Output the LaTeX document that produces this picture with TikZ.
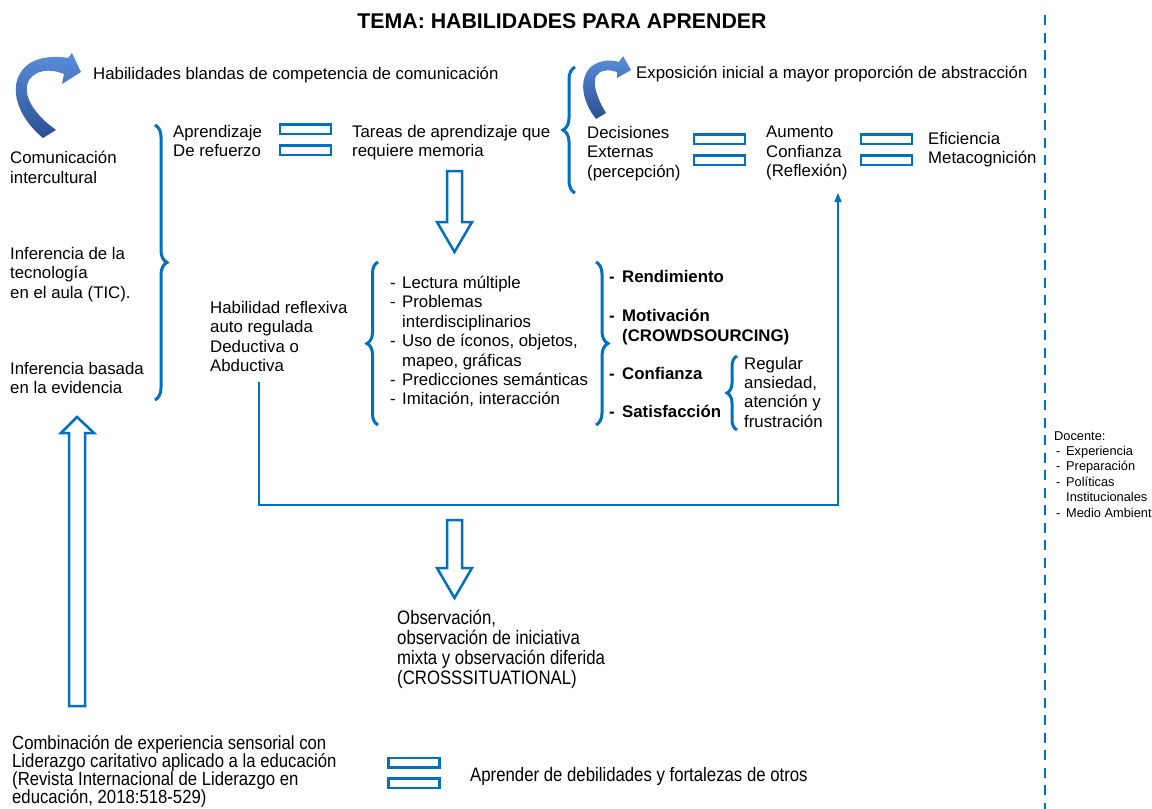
\documentclass[tikz,border=0pt]{standalone}
\usepackage{fontspec}
\setmainfont{Liberation Sans}
\newfontfamily\narrowfont[FakeStretch=0.86]{Liberation Sans}
\newfontfamily\narrowerfont[FakeStretch=0.88]{Liberation Sans}
\usetikzlibrary{decorations.pathreplacing,arrows.meta}
\definecolor{oblue}{HTML}{0070C0}
\definecolor{arrtop}{HTML}{5A8EDB}
\definecolor{arrbot}{HTML}{2C4F8F}
\tikzset{
  txt/.style={anchor=north west, inner sep=0pt, align=left, font=\fontsize{16.8}{19.5}\selectfont, text=black, execute at begin node={\rule{0pt}{16pt}}},
  boldtxt/.style={txt, font=\fontsize{16.8}{19.5}\selectfont\bfseries},
  narrowtxt/.style={anchor=north west, inner sep=0pt, align=left, font=\narrowfont\fontsize{19.5}{19.7}\selectfont, execute at begin node={\rule{0pt}{18pt}}},
  smalltxt/.style={anchor=north west, inner sep=0pt, align=left, font=\fontsize{12.8}{15.4}\selectfont, execute at begin node={\rule{0pt}{12pt}}},
  eqbar/.style={draw=oblue, line width=2.5pt, fill=white, minimum width=51pt, minimum height=9.5pt, inner sep=0pt},
  bracebig/.style={draw=oblue, line width=3pt, decorate, decoration={brace, amplitude=#1}},
  blockarrow/.style={draw=oblue, line width=2.5pt, fill=white, line join=miter},
  conn/.style={draw=oblue, line width=1.5pt, -{Triangle[length=9pt,width=7pt]}},
  curvearrow/.style={top color=arrtop, bottom color=arrbot, draw=none}
}
\begin{document}
\begin{tikzpicture}[x=1pt,y=-1pt]
\clip (0,0) rectangle (1152,809);
\fill[white] (0,0) rectangle (1152,809);

% title
\node[inner sep=0pt, font=\fontsize{21.3}{25}\selectfont\bfseries] (title) at (562,21) {TEMA: HABILIDADES PARA APRENDER};

% dashed divider
\draw[oblue, line width=2.6pt, dash pattern=on 10pt off 7.5pt] (1045,15) -- (1045,809);

% curved arrows
\shade[curvearrow] (43,138) .. controls (15,115) and (5,80) .. (30,63)
  .. controls (42,56) and (58,56) .. (68,58) -- (72,53) -- (81,72) -- (62,84) -- (64,74)
  .. controls (50,68) and (36,70) .. (29,80) .. controls (21,95) and (35,115) .. (56,130) -- cycle;
\shade[curvearrow] (596,119) .. controls (585,105) and (578,85) .. (588,70)
  .. controls (596,60) and (610,59) .. (619,62) -- (623,56) -- (631,70) -- (617,78) -- (617,72)
  .. controls (608,69) and (600,70) .. (596,76) .. controls (592,84) and (598,100) .. (606,113) -- cycle;

% top-left texts
\node[txt] (blandas) at (93,63) {Habilidades blandas de competencia de comunicaci\'on};
\node[txt] (cominter) at (10,151) {Comunicaci\'on\\intercultural};
\node[txt] (inftec) at (10,247) {Inferencia de la\\tecnolog\'ia\\en el aula (TIC).};
\node[txt] (infevid) at (10,362) {Inferencia basada\\en la evidencia};

% brace 1
\draw[bracebig=12pt] (155,125) -- (155,400);

\node[txt] (aprref) at (173,125) {Aprendizaje\\De refuerzo};
\node[eqbar] (eq1a) at (305.5,129) {};
\node[eqbar] (eq1b) at (305.5,150) {};
\node[txt] (tareas) at (352,125) {Tareas de aprendizaje que\\requiere memoria};

% top-right group
\draw[bracebig=12pt] (575,193) -- (575,67);
\node[txt] (exposicion) at (636,62) {Exposici\'on inicial a mayor proporci\'on de abstracci\'on};
\node[txt] (decisiones) at (587,126) {Decisiones\\Externas\\(percepci\'on)};
\node[eqbar] (eq2a) at (719.5,139) {};
\node[eqbar] (eq2b) at (719.5,160) {};
\node[txt] (aumento) at (766,126) {Aumento\\Confianza\\(Reflexi\'on)};
\node[eqbar] (eq3a) at (886.5,139) {};
\node[eqbar] (eq3b) at (886.5,160) {};
\node[txt] (eficiencia) at (928,132) {Eficiencia\\Metacognici\'on};

% down block arrow 1
\draw[blockarrow] (447,171) -- (462,171) -- (462,222) -- (472,222) -- (454.5,252) -- (437,222) -- (447,222) -- cycle;

% middle
\node[txt] (habilidad) at (210,301) {Habilidad reflexiva\\auto regulada\\Deductiva o\\Abductiva};
\draw[bracebig=11pt] (378,425) -- (378,262);
\node[txt, font=\fontsize{16.8}{19.4}\selectfont] (lista) at (390,276) {\makebox[12pt][l]{-}Lectura m\'ultiple\\
\makebox[12pt][l]{-}Problemas\\
\hspace*{12pt}interdisciplinarios\\
\makebox[12pt][l]{-}Uso de \'iconos, objetos,\\
\hspace*{12pt}mapeo, gr\'aficas\\
\makebox[12pt][l]{-}Predicciones sem\'anticas\\
\makebox[12pt][l]{-}Imitaci\'on, interacci\'on};
\draw[bracebig=12pt] (596,262) -- (596,425);
\node[boldtxt] (rend) at (609,266) {\makebox[13pt][l]{-}Rendimiento};
\node[boldtxt] (motiv) at (609,309) {\makebox[13pt][l]{-}Motivaci\'on\\\hspace*{13pt}(CROWDSOURCING)};
\node[boldtxt] (conf) at (609,363) {\makebox[13pt][l]{-}Confianza};
\node[boldtxt] (satis) at (609,401) {\makebox[13pt][l]{-}Satisfacci\'on};
\draw[bracebig=10pt] (737,430) -- (737,356);
\node[txt, font=\fontsize{16.8}{19.3}\selectfont] (regular) at (744,357) {Regular\\ansiedad,\\atenci\'on y\\frustraci\'on};

% feedback connector
\coordinate (fbstart) at (259,382);
\coordinate (fbend) at (838,193);
\draw[conn] (fbstart) -- (259,505) -- (838,505) -- (fbend);

% down block arrow 2
\draw[blockarrow] (447,520) -- (462,520) -- (462,568) -- (472,568) -- (454.5,598) -- (437,568) -- (447,568) -- cycle;
\node[narrowtxt, font=\narrowfont\fontsize{19.5}{20}\selectfont] (observ) at (397,610) {Observaci\'on,\\observaci\'on de iniciativa\\mixta y observaci\'on diferida\\(CROSSSITUATIONAL)};

% up block arrow
\draw[blockarrow] (69,706) -- (69,433) -- (61,433) -- (77,417) -- (94,433) -- (85,433) -- (85,706) -- cycle;

% bottom
\node[narrowtxt, font=\narrowerfont\fontsize{19}{18}\selectfont] (combin) at (12,735) {Combinaci\'on de experiencia sensorial con\\Liderazgo caritativo aplicado a la educaci\'on\\(Revista Internacional de Liderazgo en\\educaci\'on, 2018:518-529)};
\node[eqbar] (eq4a) at (414,762.5) {};
\node[eqbar] (eq4b) at (414,783) {};
\node[narrowtxt] (aprender) at (470,763) {Aprender de debilidades y fortalezas de otros};

% docente
\node[smalltxt] (docente) at (1054,431) {Docente:\\
\makebox[12pt][l]{\hspace*{2pt}-}Experiencia\\
\makebox[12pt][l]{\hspace*{2pt}-}Preparaci\'on\\
\makebox[12pt][l]{\hspace*{2pt}-}Pol\'iticas\\
\hspace*{12pt}Institucionales\\
\makebox[12pt][l]{\hspace*{2pt}-}Medio Ambiente};
\end{tikzpicture}
\end{document}
